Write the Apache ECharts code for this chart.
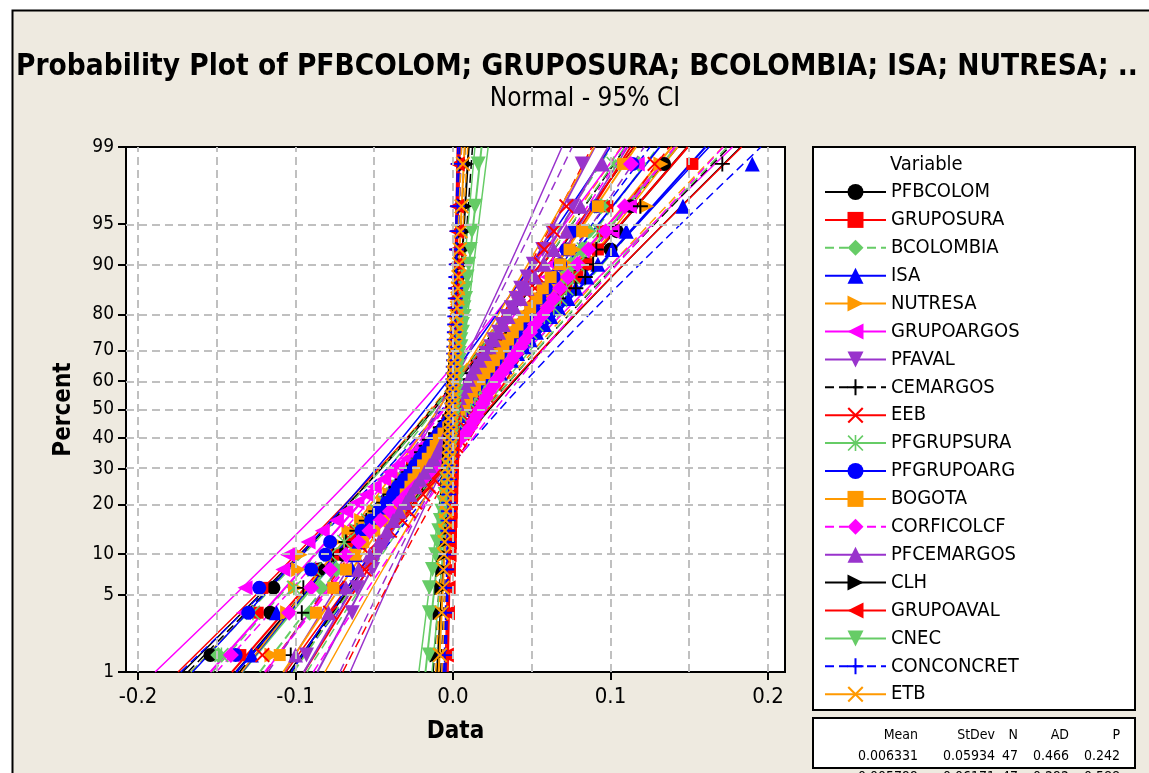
<!DOCTYPE html>
<html>
<head>
<meta charset="utf-8">
<script src="https://cdn.jsdelivr.net/npm/echarts@6/dist/echarts.min.js"></script>
<style>
html, body { margin: 0; padding: 0; background: #fff; }
#main { width: 1149px; height: 773px; }
</style>
</head>
<body>
<div id="main"></div>
<script>
var PFBCOLOM = [-0.154,-0.116,-0.114,-0.085,-0.070,-0.062,-0.058,-0.049,-0.046,-0.041,-0.037,-0.035,-0.029,-0.026,-0.024,-0.018,-0.016,-0.011,-0.009,-0.006,-0.002,0.001,0.004,0.006,0.010,0.013,0.015,0.020,0.023,0.027,0.029,0.033,0.036,0.041,0.044,0.048,0.051,0.056,0.061,0.066,0.070,0.078,0.084,0.100,0.104,0.113,0.134];
var GRUPOSURA = [-0.135,-0.124,-0.121,-0.089,-0.076,-0.066,-0.062,-0.054,-0.051,-0.044,-0.040,-0.037,-0.031,-0.028,-0.026,-0.020,-0.017,-0.015,-0.010,-0.008,-0.003,-0.001,0.004,0.005,0.010,0.012,0.017,0.019,0.023,0.026,0.030,0.033,0.038,0.041,0.045,0.049,0.052,0.058,0.062,0.066,0.072,0.079,0.085,0.092,0.095,0.098,0.152];
var BCOLOMBIA = [-0.149,-0.091,-0.084,-0.074,-0.064,-0.059,-0.055,-0.048,-0.046,-0.040,-0.036,-0.034,-0.028,-0.027,-0.022,-0.019,-0.017,-0.012,-0.011,-0.006,-0.004,-0.001,0.002,0.005,0.009,0.010,0.014,0.017,0.021,0.023,0.027,0.029,0.033,0.036,0.040,0.043,0.047,0.050,0.055,0.059,0.064,0.070,0.075,0.082,0.086,0.094,0.118];
var ISA = [-0.128,-0.112,-0.070,-0.064,-0.062,-0.060,-0.057,-0.053,-0.049,-0.045,-0.040,-0.036,-0.031,-0.028,-0.023,-0.020,-0.016,-0.013,-0.009,-0.006,-0.002,0.002,0.005,0.008,0.012,0.015,0.018,0.022,0.025,0.030,0.033,0.037,0.041,0.045,0.049,0.053,0.058,0.062,0.067,0.073,0.078,0.085,0.092,0.101,0.110,0.146,0.190];
var NUTRESA = [-0.115,-0.105,-0.100,-0.098,-0.097,-0.075,-0.066,-0.058,-0.050,-0.044,-0.040,-0.035,-0.031,-0.028,-0.024,-0.021,-0.017,-0.014,-0.011,-0.008,-0.004,-0.001,0.002,0.005,0.008,0.011,0.014,0.017,0.020,0.024,0.027,0.030,0.034,0.037,0.041,0.045,0.048,0.052,0.057,0.061,0.065,0.069,0.073,0.077,0.085,0.123,0.132];
var GRUPOARGOS = [-0.140,-0.133,-0.132,-0.108,-0.105,-0.092,-0.083,-0.074,-0.068,-0.061,-0.055,-0.050,-0.044,-0.040,-0.035,-0.029,-0.025,-0.020,-0.016,-0.011,-0.007,-0.003,0.001,0.004,0.007,0.010,0.013,0.016,0.019,0.022,0.025,0.028,0.031,0.034,0.037,0.040,0.043,0.046,0.050,0.053,0.056,0.060,0.063,0.070,0.101,0.112,0.117];
var PFAVAL = [-0.093,-0.064,-0.061,-0.051,-0.048,-0.043,-0.040,-0.036,-0.032,-0.030,-0.026,-0.024,-0.021,-0.019,-0.017,-0.014,-0.012,-0.010,-0.008,-0.006,-0.004,-0.002,0.000,0.002,0.004,0.006,0.008,0.010,0.012,0.014,0.017,0.019,0.021,0.024,0.026,0.029,0.031,0.034,0.037,0.040,0.043,0.047,0.051,0.057,0.063,0.076,0.082];
var CEMARGOS = [-0.103,-0.096,-0.095,-0.084,-0.076,-0.068,-0.061,-0.055,-0.049,-0.044,-0.040,-0.036,-0.032,-0.028,-0.025,-0.022,-0.020,-0.017,-0.015,-0.011,-0.008,-0.005,-0.002,0.001,0.003,0.005,0.007,0.009,0.010,0.012,0.016,0.020,0.024,0.028,0.033,0.038,0.044,0.052,0.060,0.067,0.078,0.084,0.089,0.091,0.100,0.119,0.171];
var EEB = [-0.121,-0.078,-0.073,-0.056,-0.053,-0.048,-0.040,-0.032,-0.028,-0.024,-0.019,-0.015,-0.012,-0.009,-0.006,-0.003,-0.001,0.002,0.004,0.006,0.008,0.010,0.012,0.014,0.016,0.018,0.020,0.022,0.024,0.026,0.028,0.030,0.032,0.034,0.036,0.038,0.041,0.044,0.047,0.050,0.052,0.054,0.056,0.058,0.064,0.072,0.128];
var PFGRUPSURA = [-0.147,-0.127,-0.101,-0.088,-0.078,-0.069,-0.061,-0.054,-0.048,-0.043,-0.038,-0.034,-0.030,-0.026,-0.022,-0.018,-0.015,-0.011,-0.008,-0.004,-0.001,0.002,0.005,0.008,0.011,0.014,0.017,0.021,0.024,0.027,0.031,0.034,0.038,0.041,0.045,0.049,0.053,0.058,0.064,0.068,0.072,0.076,0.079,0.083,0.093,0.094,0.102];
var PFGRUPOARG = [-0.138,-0.130,-0.123,-0.090,-0.081,-0.078,-0.058,-0.052,-0.047,-0.042,-0.038,-0.035,-0.031,-0.027,-0.024,-0.021,-0.018,-0.015,-0.012,-0.009,-0.006,-0.003,0.000,0.003,0.006,0.009,0.012,0.015,0.018,0.021,0.024,0.027,0.030,0.033,0.036,0.040,0.043,0.047,0.051,0.055,0.059,0.064,0.068,0.072,0.076,0.091,0.114];
var BOGOTA = [-0.110,-0.087,-0.076,-0.068,-0.062,-0.057,-0.050,-0.044,-0.034,-0.032,-0.030,-0.027,-0.025,-0.022,-0.019,-0.016,-0.013,-0.011,-0.009,-0.006,-0.003,-0.001,0.002,0.004,0.007,0.009,0.012,0.014,0.017,0.020,0.023,0.026,0.029,0.032,0.035,0.038,0.041,0.045,0.049,0.053,0.057,0.062,0.068,0.074,0.082,0.092,0.108];
var CORFICOLCF = [-0.141,-0.104,-0.090,-0.078,-0.068,-0.060,-0.053,-0.046,-0.040,-0.034,-0.029,-0.024,-0.019,-0.015,-0.011,-0.007,-0.003,0.001,0.004,0.008,0.011,0.013,0.015,0.017,0.019,0.021,0.023,0.026,0.028,0.031,0.034,0.037,0.040,0.043,0.046,0.049,0.052,0.056,0.060,0.064,0.068,0.073,0.079,0.086,0.097,0.109,0.113];
var PFCEMARGOS = [-0.100,-0.079,-0.068,-0.060,-0.053,-0.047,-0.042,-0.038,-0.034,-0.030,-0.027,-0.024,-0.021,-0.018,-0.015,-0.012,-0.010,-0.008,-0.006,-0.004,-0.002,-0.001,0.000,0.001,0.003,0.004,0.006,0.008,0.010,0.012,0.014,0.017,0.020,0.023,0.026,0.029,0.032,0.035,0.039,0.043,0.047,0.052,0.058,0.064,0.072,0.081,0.095];
var CLH = [-0.0100,-0.0082,-0.0071,-0.0064,-0.0059,-0.0054,-0.0049,-0.0046,-0.0042,-0.0039,-0.0035,-0.0032,-0.0030,-0.0026,-0.0024,-0.0021,-0.0018,-0.0015,-0.0013,-0.0010,-0.0008,-0.0005,-0.0003,0.0000,0.0002,0.0005,0.0007,0.0010,0.0012,0.0015,0.0017,0.0020,0.0023,0.0026,0.0029,0.0032,0.0035,0.0038,0.0042,0.0045,0.0049,0.0053,0.0058,0.0063,0.0069,0.0074,0.0085];
var GRUPOAVAL = [-0.0042,-0.0035,-0.0031,-0.0029,-0.0025,-0.0023,-0.0022,-0.0019,-0.0018,-0.0016,-0.0015,-0.0014,-0.0013,-0.0011,-0.0010,-0.0009,-0.0008,-0.0007,-0.0006,-0.0006,-0.0004,-0.0003,-0.0002,-0.0001,0.0000,0.0001,0.0002,0.0003,0.0004,0.0004,0.0006,0.0007,0.0008,0.0009,0.0010,0.0011,0.0012,0.0013,0.0014,0.0016,0.0017,0.0018,0.0019,0.0021,0.0022,0.0024,0.0027];
var CNEC = [-0.015,-0.015,-0.015,-0.013,-0.011,-0.010,-0.009,-0.008,-0.007,-0.006,-0.005,-0.004,-0.004,-0.003,-0.003,-0.002,-0.002,-0.001,-0.001,0.000,0.000,0.000,0.001,0.001,0.001,0.002,0.002,0.002,0.003,0.003,0.003,0.004,0.004,0.005,0.005,0.006,0.006,0.007,0.007,0.008,0.008,0.009,0.010,0.011,0.012,0.014,0.016];
var CONCONCRET = [-0.0052,-0.0046,-0.0043,-0.0040,-0.0037,-0.0035,-0.0033,-0.0031,-0.0029,-0.0028,-0.0026,-0.0024,-0.0022,-0.0021,-0.0019,-0.0018,-0.0016,-0.0015,-0.0014,-0.0012,-0.0011,-0.0010,-0.0008,-0.0007,-0.0006,-0.0004,-0.0003,-0.0002,0.0000,0.0001,0.0002,0.0004,0.0005,0.0006,0.0008,0.0009,0.0011,0.0012,0.0014,0.0015,0.0017,0.0019,0.0021,0.0023,0.0026,0.0029,0.0034];
var ETB = [-0.0083,-0.0072,-0.0066,-0.0061,-0.0057,-0.0053,-0.0050,-0.0046,-0.0043,-0.0041,-0.0038,-0.0035,-0.0033,-0.0030,-0.0028,-0.0026,-0.0023,-0.0021,-0.0019,-0.0016,-0.0014,-0.0012,-0.0010,-0.0008,-0.0005,-0.0003,-0.0001,0.0001,0.0003,0.0005,0.0007,0.0009,0.0011,0.0014,0.0016,0.0018,0.0021,0.0023,0.0026,0.0029,0.0032,0.0035,0.0039,0.0043,0.0048,0.0054,0.0063];

var NAMES = ['PFBCOLOM','GRUPOSURA','BCOLOMBIA','ISA','NUTRESA','GRUPOARGOS','PFAVAL','CEMARGOS','EEB','PFGRUPSURA',
             'PFGRUPOARG','BOGOTA','CORFICOLCF','PFCEMARGOS','CLH','GRUPOAVAL','CNEC','CONCONCRET','ETB'];
var DATA = [PFBCOLOM, GRUPOSURA, BCOLOMBIA, ISA, NUTRESA, GRUPOARGOS, PFAVAL, CEMARGOS, EEB, PFGRUPSURA,
            PFGRUPOARG, BOGOTA, CORFICOLCF, PFCEMARGOS, CLH, GRUPOAVAL, CNEC, CONCONCRET, ETB];

// axis ticks
var X_LABELS = [-0.2, -0.1, 0, 0.1, 0.2];
var X_GRID = [-0.2, -0.15, -0.1, -0.05, 0, 0.05, 0.1, 0.15, 0.2];
var PCT_TICKS = [1, 5, 10, 20, 30, 40, 50, 60, 70, 80, 90, 95, 99];
var PCT_GRID = [5, 10, 20, 30, 40, 50, 60, 70, 80, 90, 95];

// stats table text
var STAT_HEAD = ['Mean', 'StDev', 'N', 'AD', 'P'];
var STAT_ROWS = [['0.006331', '0.05934', '47', '0.466', '0.242'],
                 ['0.005799', '0.06171', '47', '0.292', '0.588']];

var COLORS = ['#000000', '#FF0000', '#66CC66', '#0000FF', '#FF9900', '#FF00FF', '#9933CC'];
var FIT_DASH = [0,0,1,0,0,0,0,1,0,0,0,0,1,0,0,0,0,1,0];
var CI_DASH  = [0,0,1,1,1,0,0,1,1,1,0,0,1,1,1,0,0,1,1];

var PLUS = 'path://M7,0H9V7H16V9H9V16H7V9H0V7H7Z';
var CROSS = 'path://M1.5,0L8,6.5L14.5,0L16,1.5L9.5,8L16,14.5L14.5,16L8,9.5L1.5,16L0,14.5L6.5,8L0,1.5Z';
var STAR = 'path://M1.2,0L8,6.8L14.8,0L16,1.2L9.2,8L16,14.8L14.8,16L8,9.2L1.2,16L0,14.8L6.8,8L0,1.2Z M7.2,0H8.8V16H7.2Z';
var SYMBOLS = [
    { symbol: 'circle', rotate: 0, size: 14 },
    { symbol: 'rect', rotate: 0, size: 12 },
    { symbol: 'diamond', rotate: 0, size: 16 },
    { symbol: 'triangle', rotate: 0, size: 15 },
    { symbol: 'triangle', rotate: -90, size: 15 },
    { symbol: 'triangle', rotate: 90, size: 15 },
    { symbol: 'triangle', rotate: 180, size: 15 },
    { symbol: PLUS, rotate: 0, size: 15 },
    { symbol: CROSS, rotate: 0, size: 15 },
    { symbol: STAR, rotate: 0, size: 15 }
];

var FONT = '"DejaVu Sans Condensed", "DejaVu Sans", sans-serif';

// inverse normal cdf (Acklam)
function probit(p) {
    var a = [-39.69683028665376, 220.9460984245205, -275.9285104469687, 138.3577518672690, -30.66479806614716, 2.506628277459239];
    var b = [-54.47609879822406, 161.5858368580409, -155.6989798598866, 66.80131188771972, -13.28068155288572];
    var c = [-0.007784894002430293, -0.3223964580411365, -2.400758277161838, -2.549732539343734, 4.374664141464968, 2.938163982698783];
    var d = [0.007784695709041462, 0.3224671290700398, 2.445134137142996, 3.754408661907416];
    var q, r;
    if (p < 0.02425) {
        q = Math.sqrt(-2 * Math.log(p));
        return (((((c[0]*q+c[1])*q+c[2])*q+c[3])*q+c[4])*q+c[5]) / ((((d[0]*q+d[1])*q+d[2])*q+d[3])*q+1);
    }
    if (p > 1 - 0.02425) {
        q = Math.sqrt(-2 * Math.log(1 - p));
        return -(((((c[0]*q+c[1])*q+c[2])*q+c[3])*q+c[4])*q+c[5]) / ((((d[0]*q+d[1])*q+d[2])*q+d[3])*q+1);
    }
    q = p - 0.5; r = q * q;
    return (((((a[0]*r+a[1])*r+a[2])*r+a[3])*r+a[4])*r+a[5])*q / (((((b[0]*r+b[1])*r+b[2])*r+b[3])*r+b[4])*r+1);
}

var Y_MIN = probit(0.01), Y_MAX = probit(0.99);
var Y_TICKS = PCT_TICKS.map(function (p) { return probit(p / 100); });

var chart = echarts.init(document.getElementById('main'));

// grid lines
var gridLines = X_GRID.map(function (v) { return { xAxis: v }; })
    .concat(PCT_GRID.map(function (p) { return { yAxis: probit(p / 100) }; }));

var series = [{
    name: '_grid', type: 'scatter', data: [[0, 0]], symbolSize: 0, silent: true, z: 1,
    markLine: {
        silent: true, symbol: ['none', 'none'], label: { show: false },
        lineStyle: { color: '#C0C0C0', width: 2, type: [8, 5] },
        data: gridLines
    }
}];

NAMES.forEach(function (name, k) {
    var xs = DATA[k], n = xs.length;
    var m = 0, s = 0;
    xs.forEach(function (x) { m += x; });
    m /= n;
    xs.forEach(function (x) { s += (x - m) * (x - m); });
    s = Math.sqrt(s / (n - 1));
    var sym = SYMBOLS[k % 10], color = COLORS[k % 7];
    var fitType = FIT_DASH[k] ? [9, 5] : 'solid';
    var ciType = CI_DASH[k] ? [9, 5] : 'solid';

    series.push({
        name: name, type: 'line', silent: true, z: 2,
        symbol: sym.symbol, symbolRotate: sym.rotate, symbolSize: sym.size, showSymbol: false,
        itemStyle: { color: color },
        lineStyle: { color: color, width: 2, type: fitType },
        data: [[m + s * Y_MIN, Y_MIN], [m + s * Y_MAX, Y_MAX]]
    });

    var lo = [], hi = [];
    for (var j = 0; j <= 60; j++) {
        var z = Y_MIN + (Y_MAX - Y_MIN) * j / 60;
        var h = 1.96 * s * Math.sqrt(1 / n + z * z / (2 * n));
        lo.push([m + s * z - h, z]);
        hi.push([m + s * z + h, z]);
    }
    [lo, hi].forEach(function (band, b) {
        series.push({
            name: name + (b ? ' upper' : ' lower'), type: 'line', silent: true, z: 2,
            showSymbol: false, symbol: 'none',
            lineStyle: { color: color, width: 1.5, type: ciType },
            data: band
        });
    });

    series.push({
        name: name + ' pts', type: 'scatter', silent: true, z: 3,
        symbol: sym.symbol, symbolRotate: sym.rotate, symbolSize: sym.size,
        itemStyle: { color: color, opacity: 1 },
        data: xs.map(function (x, i) { return [x, probit((i + 0.7) / (n + 0.4))]; })
    });
});

var graphics = [
    { type: 'rect', shape: { x: 0, y: 0, width: 1149, height: 10 }, style: { fill: '#fff' }, silent: true },
    { type: 'rect', shape: { x: 0, y: 0, width: 12, height: 773 }, style: { fill: '#fff' }, silent: true },
    { type: 'polyline', shape: { points: [[12.5, 773], [12.5, 10.5], [1149, 10.5]] }, style: { stroke: '#000', lineWidth: 2, fill: null }, silent: true },
    { type: 'text', x: 577, y: 67, style: { text: 'Probability Plot of PFBCOLOM; GRUPOSURA; BCOLOMBIA; ISA; NUTRESA; ..', fontFamily: '"Liberation Sans Narrow", ' + FONT, fontWeight: 'bold', fontSize: 29.5, fill: '#000', align: 'center', verticalAlign: 'middle' } },
    { type: 'text', x: 585, y: 99, style: { text: 'Normal - 95% CI', fontFamily: FONT, fontSize: 26, fill: '#000', align: 'center', verticalAlign: 'middle' } },
    { type: 'rect', shape: { x: 813, y: 147, width: 322, height: 563 }, style: { fill: '#fff', stroke: '#000', lineWidth: 2 }, silent: true },
    { type: 'text', x: 890, y: 165, style: { text: 'Variable', fontFamily: FONT, fontSize: 20, fill: '#000', align: 'left', verticalAlign: 'middle' } },
    { type: 'rect', shape: { x: 813, y: 718, width: 322, height: 50 }, style: { fill: '#fff', stroke: '#000', lineWidth: 2 }, silent: true }
];
var COL_RIGHT = [918, 995, 1018, 1069, 1120];
STAT_HEAD.forEach(function (t, i) {
    graphics.push({ type: 'text', x: COL_RIGHT[i], y: 735, style: { text: t, fontFamily: FONT, fontSize: 14, fill: '#000', align: 'right', verticalAlign: 'middle' } });
});
STAT_ROWS.forEach(function (row, r) {
    row.forEach(function (t, i) {
        graphics.push({ type: 'text', x: COL_RIGHT[i], y: 756 + r * 21, style: { text: t, fontFamily: FONT, fontSize: 14, fill: '#000', align: 'right', verticalAlign: 'middle' } });
    });
});

var option = {
    animation: false,
    backgroundColor: '#EEEAE0',
    graphic: graphics,
    grid: { left: 126, right: 364, top: 147, bottom: 101, show: true, backgroundColor: '#fff', borderColor: '#000', borderWidth: 2 },
    legend: {
        data: NAMES, orient: 'vertical', left: 824, top: 182, padding: 0,
        itemWidth: 61, itemHeight: 20, itemGap: 7.9, selectedMode: false,
        textStyle: { fontFamily: FONT, fontSize: 20, color: '#000' }
    },
    xAxis: {
        type: 'value', min: -0.2076, max: 0.2108,
        name: 'Data', nameLocation: 'middle', nameGap: 48,
        nameTextStyle: { fontFamily: FONT, fontWeight: 'bold', fontSize: 24, color: '#000' },
        axisLine: { onZero: false, lineStyle: { color: '#000', width: 2 } },
        axisTick: { customValues: X_LABELS, length: 8, lineStyle: { color: '#000', width: 2 } },
        axisLabel: { customValues: X_LABELS, margin: 14, fontFamily: FONT, fontSize: 22, color: '#000',
            formatter: function (v) { return v.toFixed(1); } },
        splitLine: { show: false }
    },
    yAxis: {
        type: 'value', min: Y_MIN, max: Y_MAX,
        name: 'Percent', nameLocation: 'middle', nameGap: 50,
        nameTextStyle: { fontFamily: FONT, fontWeight: 'bold', fontSize: 24, color: '#000' },
        axisLine: { onZero: false, lineStyle: { color: '#000', width: 2 } },
        axisTick: { customValues: Y_TICKS, length: 8, lineStyle: { color: '#000', width: 2 } },
        axisLabel: { customValues: Y_TICKS, margin: 12, fontFamily: FONT, fontSize: 19, color: '#000',
            formatter: function (v) {
                for (var i = 0; i < Y_TICKS.length; i++) {
                    if (Math.abs(Y_TICKS[i] - v) < 1e-6) return String(PCT_TICKS[i]);
                }
                return '';
            } },
        splitLine: { show: false }
    },
    series: series
};
chart.setOption(option);
</script>
</body>
</html>
